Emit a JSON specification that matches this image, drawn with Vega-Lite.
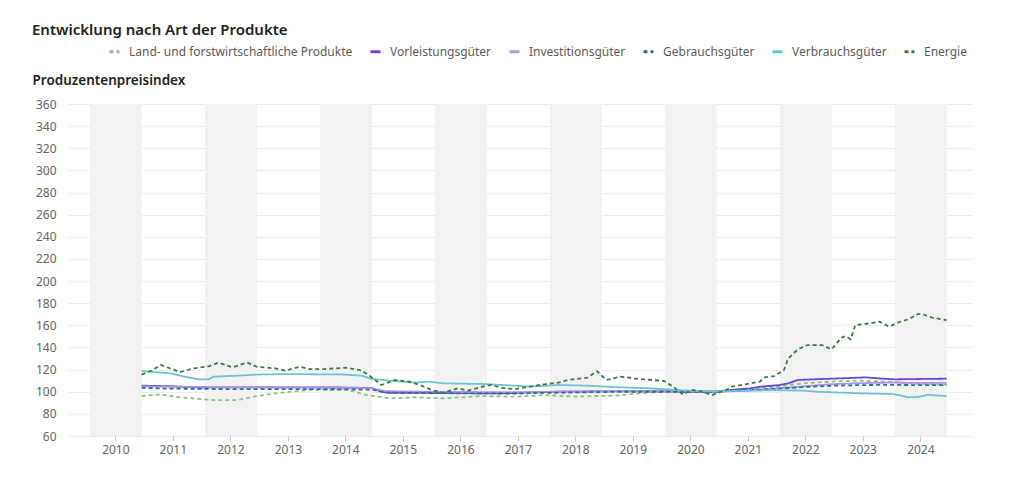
{
  "$schema": "https://vega.github.io/schema/vega-lite/v6.json",
  "width": 904,
  "height": 332,
  "autosize": {"type": "none"},
  "padding": {"left": 68, "top": 104, "right": 52, "bottom": 49},
  "background": "white",
  "config": {"font": "Noto Sans", "view": {"stroke": null}},
  "title": {"text": "Entwicklung nach Art der Produkte", "anchor": "start", "frame": "group", "dx": -36, "dy": -3, "fontSize": 15, "fontWeight": 600, "color": "#222222"},
  "layer": [
    {
      "data": {"values": [
        {"from": "2010-01-21", "to": "2010-12-16"},
        {"from": "2012-01-21", "to": "2012-12-16"},
        {"from": "2014-01-21", "to": "2014-12-16"},
        {"from": "2016-01-21", "to": "2016-12-16"},
        {"from": "2018-01-21", "to": "2018-12-16"},
        {"from": "2020-01-21", "to": "2020-12-16"},
        {"from": "2022-01-21", "to": "2022-12-16"},
        {"from": "2024-01-21", "to": "2024-12-16"}
      ]},
      "mark": {"type": "rect", "color": "#f2f2f2"},
      "encoding": {
        "x": {"field": "from", "type": "temporal"},
        "x2": {"field": "to"}
      }
    },
    {
      "data": {"values": [
        {"d": "2010-12-15", "s": "Land- und forstwirtschaftliche Produkte", "v": 96.1},
        {"d": "2011-04-15", "s": "Land- und forstwirtschaftliche Produkte", "v": 97.6},
        {"d": "2011-08-15", "s": "Land- und forstwirtschaftliche Produkte", "v": 94.9},
        {"d": "2012-03-15", "s": "Land- und forstwirtschaftliche Produkte", "v": 92.5},
        {"d": "2012-08-15", "s": "Land- und forstwirtschaftliche Produkte", "v": 92.5},
        {"d": "2012-12-15", "s": "Land- und forstwirtschaftliche Produkte", "v": 96.1},
        {"d": "2013-04-15", "s": "Land- und forstwirtschaftliche Produkte", "v": 98.6},
        {"d": "2013-11-15", "s": "Land- und forstwirtschaftliche Produkte", "v": 101.6},
        {"d": "2014-07-15", "s": "Land- und forstwirtschaftliche Produkte", "v": 101.6},
        {"d": "2014-11-15", "s": "Land- und forstwirtschaftliche Produkte", "v": 97.0},
        {"d": "2015-04-15", "s": "Land- und forstwirtschaftliche Produkte", "v": 94.0},
        {"d": "2015-09-15", "s": "Land- und forstwirtschaftliche Produkte", "v": 94.9},
        {"d": "2016-03-15", "s": "Land- und forstwirtschaftliche Produkte", "v": 94.0},
        {"d": "2016-11-15", "s": "Land- und forstwirtschaftliche Produkte", "v": 96.1},
        {"d": "2017-06-15", "s": "Land- und forstwirtschaftliche Produkte", "v": 95.5},
        {"d": "2017-12-15", "s": "Land- und forstwirtschaftliche Produkte", "v": 97.0},
        {"d": "2018-06-15", "s": "Land- und forstwirtschaftliche Produkte", "v": 95.6},
        {"d": "2019-03-15", "s": "Land- und forstwirtschaftliche Produkte", "v": 96.5},
        {"d": "2019-09-15", "s": "Land- und forstwirtschaftliche Produkte", "v": 99.0},
        {"d": "2020-06-15", "s": "Land- und forstwirtschaftliche Produkte", "v": 101.0},
        {"d": "2020-12-15", "s": "Land- und forstwirtschaftliche Produkte", "v": 100.5},
        {"d": "2021-06-15", "s": "Land- und forstwirtschaftliche Produkte", "v": 102.0},
        {"d": "2021-12-15", "s": "Land- und forstwirtschaftliche Produkte", "v": 104.5},
        {"d": "2022-06-15", "s": "Land- und forstwirtschaftliche Produkte", "v": 107.5},
        {"d": "2022-12-15", "s": "Land- und forstwirtschaftliche Produkte", "v": 109.2},
        {"d": "2023-06-15", "s": "Land- und forstwirtschaftliche Produkte", "v": 110.0},
        {"d": "2023-12-15", "s": "Land- und forstwirtschaftliche Produkte", "v": 109.0},
        {"d": "2024-06-15", "s": "Land- und forstwirtschaftliche Produkte", "v": 107.2},
        {"d": "2024-12-15", "s": "Land- und forstwirtschaftliche Produkte", "v": 106.5},

        {"d": "2010-12-15", "s": "Vorleistungsgüter", "v": 105.5},
        {"d": "2011-06-15", "s": "Vorleistungsgüter", "v": 105.0},
        {"d": "2011-12-15", "s": "Vorleistungsgüter", "v": 103.8},
        {"d": "2012-06-15", "s": "Vorleistungsgüter", "v": 104.0},
        {"d": "2013-06-15", "s": "Vorleistungsgüter", "v": 104.0},
        {"d": "2014-06-15", "s": "Vorleistungsgüter", "v": 103.8},
        {"d": "2014-12-15", "s": "Vorleistungsgüter", "v": 103.4},
        {"d": "2015-02-15", "s": "Vorleistungsgüter", "v": 100.0},
        {"d": "2015-04-15", "s": "Vorleistungsgüter", "v": 99.0},
        {"d": "2016-06-15", "s": "Vorleistungsgüter", "v": 98.8},
        {"d": "2017-03-15", "s": "Vorleistungsgüter", "v": 98.4},
        {"d": "2017-09-15", "s": "Vorleistungsgüter", "v": 99.3},
        {"d": "2018-03-15", "s": "Vorleistungsgüter", "v": 100.0},
        {"d": "2019-03-15", "s": "Vorleistungsgüter", "v": 100.4},
        {"d": "2020-01-15", "s": "Vorleistungsgüter", "v": 100.4},
        {"d": "2020-06-15", "s": "Vorleistungsgüter", "v": 99.8},
        {"d": "2020-12-15", "s": "Vorleistungsgüter", "v": 100.0},
        {"d": "2021-03-15", "s": "Vorleistungsgüter", "v": 101.6},
        {"d": "2021-07-15", "s": "Vorleistungsgüter", "v": 103.0},
        {"d": "2021-09-15", "s": "Vorleistungsgüter", "v": 104.5},
        {"d": "2022-01-15", "s": "Vorleistungsgüter", "v": 106.0},
        {"d": "2022-03-15", "s": "Vorleistungsgüter", "v": 107.6},
        {"d": "2022-05-15", "s": "Vorleistungsgüter", "v": 110.6},
        {"d": "2022-10-15", "s": "Vorleistungsgüter", "v": 111.5},
        {"d": "2023-02-15", "s": "Vorleistungsgüter", "v": 112.1},
        {"d": "2023-07-15", "s": "Vorleistungsgüter", "v": 113.0},
        {"d": "2023-10-15", "s": "Vorleistungsgüter", "v": 112.0},
        {"d": "2024-01-15", "s": "Vorleistungsgüter", "v": 111.2},
        {"d": "2024-06-15", "s": "Vorleistungsgüter", "v": 111.5},
        {"d": "2024-12-15", "s": "Vorleistungsgüter", "v": 111.8},

        {"d": "2010-12-15", "s": "Investitionsgüter", "v": 104.8},
        {"d": "2011-06-15", "s": "Investitionsgüter", "v": 104.5},
        {"d": "2012-06-15", "s": "Investitionsgüter", "v": 104.2},
        {"d": "2013-06-15", "s": "Investitionsgüter", "v": 104.0},
        {"d": "2014-06-15", "s": "Investitionsgüter", "v": 103.6},
        {"d": "2014-12-15", "s": "Investitionsgüter", "v": 103.2},
        {"d": "2015-03-15", "s": "Investitionsgüter", "v": 100.5},
        {"d": "2016-06-15", "s": "Investitionsgüter", "v": 99.8},
        {"d": "2017-06-15", "s": "Investitionsgüter", "v": 99.6},
        {"d": "2018-06-15", "s": "Investitionsgüter", "v": 100.2},
        {"d": "2019-06-15", "s": "Investitionsgüter", "v": 100.6},
        {"d": "2020-06-15", "s": "Investitionsgüter", "v": 100.4},
        {"d": "2020-12-15", "s": "Investitionsgüter", "v": 100.0},
        {"d": "2021-06-15", "s": "Investitionsgüter", "v": 101.0},
        {"d": "2021-12-15", "s": "Investitionsgüter", "v": 102.8},
        {"d": "2022-06-15", "s": "Investitionsgüter", "v": 104.8},
        {"d": "2022-12-15", "s": "Investitionsgüter", "v": 106.8},
        {"d": "2023-06-15", "s": "Investitionsgüter", "v": 107.8},
        {"d": "2023-12-15", "s": "Investitionsgüter", "v": 108.2},
        {"d": "2024-06-15", "s": "Investitionsgüter", "v": 108.0},
        {"d": "2024-12-15", "s": "Investitionsgüter", "v": 108.0},

        {"d": "2010-12-15", "s": "Gebrauchsgüter", "v": 103.5},
        {"d": "2011-06-15", "s": "Gebrauchsgüter", "v": 102.8},
        {"d": "2012-06-15", "s": "Gebrauchsgüter", "v": 102.4},
        {"d": "2013-06-15", "s": "Gebrauchsgüter", "v": 102.4},
        {"d": "2014-06-15", "s": "Gebrauchsgüter", "v": 102.2},
        {"d": "2014-12-15", "s": "Gebrauchsgüter", "v": 101.8},
        {"d": "2015-03-15", "s": "Gebrauchsgüter", "v": 99.2},
        {"d": "2016-06-15", "s": "Gebrauchsgüter", "v": 98.6},
        {"d": "2017-06-15", "s": "Gebrauchsgüter", "v": 98.4},
        {"d": "2018-06-15", "s": "Gebrauchsgüter", "v": 99.4},
        {"d": "2019-06-15", "s": "Gebrauchsgüter", "v": 100.0},
        {"d": "2020-06-15", "s": "Gebrauchsgüter", "v": 100.0},
        {"d": "2020-12-15", "s": "Gebrauchsgüter", "v": 100.0},
        {"d": "2021-06-15", "s": "Gebrauchsgüter", "v": 101.2},
        {"d": "2021-12-15", "s": "Gebrauchsgüter", "v": 102.5},
        {"d": "2022-06-15", "s": "Gebrauchsgüter", "v": 104.2},
        {"d": "2022-12-15", "s": "Gebrauchsgüter", "v": 105.4},
        {"d": "2023-06-15", "s": "Gebrauchsgüter", "v": 106.0},
        {"d": "2023-12-15", "s": "Gebrauchsgüter", "v": 106.2},
        {"d": "2024-06-15", "s": "Gebrauchsgüter", "v": 106.0},
        {"d": "2024-12-15", "s": "Gebrauchsgüter", "v": 106.0},

        {"d": "2010-12-15", "s": "Verbrauchsgüter", "v": 118.7},
        {"d": "2011-06-15", "s": "Verbrauchsgüter", "v": 116.6},
        {"d": "2011-09-15", "s": "Verbrauchsgüter", "v": 113.6},
        {"d": "2011-12-15", "s": "Verbrauchsgüter", "v": 111.2},
        {"d": "2012-02-15", "s": "Verbrauchsgüter", "v": 111.2},
        {"d": "2012-03-15", "s": "Verbrauchsgüter", "v": 113.6},
        {"d": "2012-08-15", "s": "Verbrauchsgüter", "v": 114.5},
        {"d": "2012-12-15", "s": "Verbrauchsgüter", "v": 115.5},
        {"d": "2013-06-15", "s": "Verbrauchsgüter", "v": 116.0},
        {"d": "2014-06-15", "s": "Verbrauchsgüter", "v": 115.6},
        {"d": "2014-10-15", "s": "Verbrauchsgüter", "v": 114.5},
        {"d": "2014-12-15", "s": "Verbrauchsgüter", "v": 111.5},
        {"d": "2015-04-15", "s": "Verbrauchsgüter", "v": 110.0},
        {"d": "2015-09-15", "s": "Verbrauchsgüter", "v": 108.2},
        {"d": "2015-12-15", "s": "Verbrauchsgüter", "v": 109.1},
        {"d": "2016-03-15", "s": "Verbrauchsgüter", "v": 107.6},
        {"d": "2016-11-15", "s": "Verbrauchsgüter", "v": 107.0},
        {"d": "2017-06-15", "s": "Verbrauchsgüter", "v": 105.5},
        {"d": "2017-09-15", "s": "Verbrauchsgüter", "v": 104.6},
        {"d": "2018-03-15", "s": "Verbrauchsgüter", "v": 106.1},
        {"d": "2018-09-15", "s": "Verbrauchsgüter", "v": 105.5},
        {"d": "2019-04-15", "s": "Verbrauchsgüter", "v": 104.0},
        {"d": "2019-10-15", "s": "Verbrauchsgüter", "v": 103.1},
        {"d": "2020-07-15", "s": "Verbrauchsgüter", "v": 100.7},
        {"d": "2020-12-15", "s": "Verbrauchsgüter", "v": 100.4},
        {"d": "2021-06-15", "s": "Verbrauchsgüter", "v": 100.8},
        {"d": "2021-12-15", "s": "Verbrauchsgüter", "v": 101.4},
        {"d": "2022-06-15", "s": "Verbrauchsgüter", "v": 101.0},
        {"d": "2022-09-15", "s": "Verbrauchsgüter", "v": 100.0},
        {"d": "2022-12-15", "s": "Verbrauchsgüter", "v": 99.5},
        {"d": "2023-06-15", "s": "Verbrauchsgüter", "v": 98.6},
        {"d": "2023-12-15", "s": "Verbrauchsgüter", "v": 98.0},
        {"d": "2024-01-15", "s": "Verbrauchsgüter", "v": 97.8},
        {"d": "2024-04-15", "s": "Verbrauchsgüter", "v": 95.0},
        {"d": "2024-06-15", "s": "Verbrauchsgüter", "v": 95.2},
        {"d": "2024-08-15", "s": "Verbrauchsgüter", "v": 97.2},
        {"d": "2024-12-15", "s": "Verbrauchsgüter", "v": 96.0},

        {"d": "2010-12-15", "s": "Energie", "v": 115.5},
        {"d": "2011-02-15", "s": "Energie", "v": 119.0},
        {"d": "2011-04-15", "s": "Energie", "v": 124.2},
        {"d": "2011-06-15", "s": "Energie", "v": 121.0},
        {"d": "2011-08-15", "s": "Energie", "v": 117.8},
        {"d": "2011-11-15", "s": "Energie", "v": 121.2},
        {"d": "2012-02-15", "s": "Energie", "v": 123.0},
        {"d": "2012-04-15", "s": "Energie", "v": 126.2},
        {"d": "2012-07-15", "s": "Energie", "v": 122.1},
        {"d": "2012-10-15", "s": "Energie", "v": 126.4},
        {"d": "2012-12-15", "s": "Energie", "v": 122.6},
        {"d": "2013-04-15", "s": "Energie", "v": 121.0},
        {"d": "2013-06-15", "s": "Energie", "v": 119.0},
        {"d": "2013-09-15", "s": "Energie", "v": 122.6},
        {"d": "2013-11-15", "s": "Energie", "v": 120.5},
        {"d": "2014-02-15", "s": "Energie", "v": 120.5},
        {"d": "2014-07-15", "s": "Energie", "v": 121.7},
        {"d": "2014-10-15", "s": "Energie", "v": 119.0},
        {"d": "2014-12-15", "s": "Energie", "v": 113.0},
        {"d": "2015-02-15", "s": "Energie", "v": 106.1},
        {"d": "2015-03-15", "s": "Energie", "v": 107.6},
        {"d": "2015-05-15", "s": "Energie", "v": 110.6},
        {"d": "2015-08-15", "s": "Energie", "v": 109.1},
        {"d": "2015-10-15", "s": "Energie", "v": 106.1},
        {"d": "2016-01-15", "s": "Energie", "v": 101.0},
        {"d": "2016-03-15", "s": "Energie", "v": 99.0},
        {"d": "2016-06-15", "s": "Energie", "v": 103.1},
        {"d": "2016-08-15", "s": "Energie", "v": 100.9},
        {"d": "2016-11-15", "s": "Energie", "v": 104.5},
        {"d": "2017-01-15", "s": "Energie", "v": 106.1},
        {"d": "2017-03-15", "s": "Energie", "v": 103.6},
        {"d": "2017-06-15", "s": "Energie", "v": 102.3},
        {"d": "2017-08-15", "s": "Energie", "v": 104.0},
        {"d": "2017-12-15", "s": "Energie", "v": 106.7},
        {"d": "2018-03-15", "s": "Energie", "v": 108.2},
        {"d": "2018-05-15", "s": "Energie", "v": 110.6},
        {"d": "2018-09-15", "s": "Energie", "v": 112.7},
        {"d": "2018-11-15", "s": "Energie", "v": 118.7},
        {"d": "2019-01-15", "s": "Energie", "v": 110.6},
        {"d": "2019-04-15", "s": "Energie", "v": 113.6},
        {"d": "2019-08-15", "s": "Energie", "v": 111.5},
        {"d": "2020-01-15", "s": "Energie", "v": 109.7},
        {"d": "2020-03-15", "s": "Energie", "v": 104.5},
        {"d": "2020-05-15", "s": "Energie", "v": 97.6},
        {"d": "2020-06-15", "s": "Energie", "v": 100.0},
        {"d": "2020-07-15", "s": "Energie", "v": 101.6},
        {"d": "2020-09-15", "s": "Energie", "v": 100.0},
        {"d": "2020-11-15", "s": "Energie", "v": 97.0},
        {"d": "2021-02-15", "s": "Energie", "v": 101.6},
        {"d": "2021-03-15", "s": "Energie", "v": 104.5},
        {"d": "2021-06-15", "s": "Energie", "v": 106.7},
        {"d": "2021-09-15", "s": "Energie", "v": 109.1},
        {"d": "2021-10-15", "s": "Energie", "v": 113.0},
        {"d": "2021-12-15", "s": "Energie", "v": 114.2},
        {"d": "2022-02-15", "s": "Energie", "v": 119.6},
        {"d": "2022-03-15", "s": "Energie", "v": 130.2},
        {"d": "2022-05-15", "s": "Energie", "v": 138.3},
        {"d": "2022-07-15", "s": "Energie", "v": 142.2},
        {"d": "2022-10-15", "s": "Energie", "v": 142.2},
        {"d": "2022-12-15", "s": "Energie", "v": 138.3},
        {"d": "2023-02-15", "s": "Energie", "v": 148.8},
        {"d": "2023-03-15", "s": "Energie", "v": 150.4},
        {"d": "2023-04-15", "s": "Energie", "v": 147.4},
        {"d": "2023-05-15", "s": "Energie", "v": 160.3},
        {"d": "2023-08-15", "s": "Energie", "v": 161.8},
        {"d": "2023-10-15", "s": "Energie", "v": 163.3},
        {"d": "2023-12-15", "s": "Energie", "v": 158.8},
        {"d": "2024-02-15", "s": "Energie", "v": 162.8},
        {"d": "2024-04-15", "s": "Energie", "v": 165.4},
        {"d": "2024-06-15", "s": "Energie", "v": 170.2},
        {"d": "2024-07-15", "s": "Energie", "v": 170.2},
        {"d": "2024-09-15", "s": "Energie", "v": 166.9},
        {"d": "2024-12-15", "s": "Energie", "v": 164.8}
      ]},
      "mark": {"type": "line", "strokeWidth": 1.8},
      "encoding": {
        "x": {
          "field": "d", "type": "temporal",
          "scale": {"domain": [{"year": 2009, "month": 9, "date": 3}, {"year": 2025, "month": 5, "date": 25}]},
          "axis": {
            "title": null, "format": "%Y", "grid": false, "domain": false,
            "values": [
              {"year": 2010, "month": 7, "date": 1}, {"year": 2011, "month": 7, "date": 1}, {"year": 2012, "month": 7, "date": 1},
              {"year": 2013, "month": 7, "date": 1}, {"year": 2014, "month": 7, "date": 1}, {"year": 2015, "month": 7, "date": 1},
              {"year": 2016, "month": 7, "date": 1}, {"year": 2017, "month": 7, "date": 1}, {"year": 2018, "month": 7, "date": 1},
              {"year": 2019, "month": 7, "date": 1}, {"year": 2020, "month": 7, "date": 1}, {"year": 2021, "month": 7, "date": 1},
              {"year": 2022, "month": 7, "date": 1}, {"year": 2023, "month": 7, "date": 1}, {"year": 2024, "month": 7, "date": 1}
            ],
            "tickColor": "#cccccc", "tickSize": 5, "labelColor": "#666666", "labelFontSize": 12, "labelPadding": 3
          }
        },
        "y": {
          "field": "v", "type": "quantitative",
          "scale": {"domain": [60, 360], "nice": false, "zero": false},
          "axis": {
            "title": "Produzentenpreisindex", "titleAngle": 0, "titleAlign": "left", "titleBaseline": "middle",
            "titleX": -36, "titleY": -24, "titleFontSize": 13.5, "titleFontWeight": 600, "titleColor": "#222222",
            "values": [60, 80, 100, 120, 140, 160, 180, 200, 220, 240, 260, 280, 300, 320, 340, 360],
            "labelColor": "#666666", "labelFontSize": 12, "labelPadding": 12, "ticks": false, "domain": false,
            "gridColor": "#ececec"
          }
        },
        "color": {
          "field": "s", "type": "nominal",
          "scale": {
            "domain": ["Land- und forstwirtschaftliche Produkte", "Vorleistungsgüter", "Investitionsgüter", "Gebrauchsgüter", "Verbrauchsgüter", "Energie"],
            "range": ["#8cc084", "#6a45d6", "#a596e6", "#2e6e8e", "#6cc3d5", "#3d7a42"]
          },
          "legend": {
            "title": null, "orient": "none", "direction": "horizontal", "legendX": 40, "legendY": -59,
            "symbolType": "stroke", "symbolStrokeWidth": 3, "symbolSize": 100, "labelLimit": 0,
            "labelColor": "#5c5c5c", "labelFontSize": 12, "labelOffset": 8, "columnPadding": 11
          }
        },
        "strokeDash": {
          "field": "s", "type": "nominal",
          "scale": {
            "domain": ["Land- und forstwirtschaftliche Produkte", "Vorleistungsgüter", "Investitionsgüter", "Gebrauchsgüter", "Verbrauchsgüter", "Energie"],
            "range": [[4, 3], [1, 0], [1, 0], [4, 3], [1, 0], [4, 3]]
          },
          "legend": {
            "title": null, "orient": "none", "direction": "horizontal", "legendX": 40, "legendY": -59,
            "symbolType": "stroke", "symbolStrokeWidth": 3, "symbolSize": 100, "labelLimit": 0,
            "labelColor": "#5c5c5c", "labelFontSize": 12, "labelOffset": 8, "columnPadding": 11
          }
        }
      }
    }
  ]
}
